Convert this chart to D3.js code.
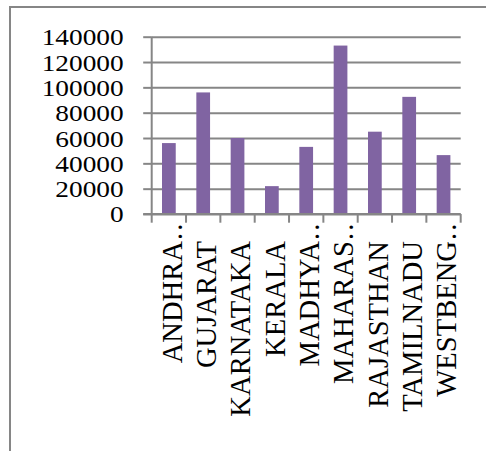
<!DOCTYPE html>
<html>
<head>
<meta charset="utf-8">
<script src="https://cdn.jsdelivr.net/npm/d3@7"></script>
<style>
  html, body { margin: 0; padding: 0; background: #fff; }
  svg { display: block; }
</style>
</head>
<body>
<svg id="chart" width="486" height="451" font-family="Liberation Serif"></svg>
<script>
// ---- data ----
const categories = ["ANDHRA PRADESH", "GUJARAT", "KARNATAKA", "KERALA", "MADHYA PRADESH",
                    "MAHARASHTRA", "RAJASTHAN", "TAMILNADU", "WESTBENGAL"];
const shownLabels = ["ANDHRA", "GUJARAT", "KARNATAKA", "KERALA", "MADHYA",
                     "MAHARAS", "RAJASTHAN", "TAMILNADU", "WESTBENG"];
const truncated = [true, false, false, false, true, true, false, false, true];
const values = [56000, 96000, 60000, 22000, 53000, 133000, 65000, 92500, 46500];
const yTicks = [0, 20000, 40000, 60000, 80000, 100000, 120000, 140000];

// ---- layout ----
const svg = d3.select("#chart");
const plot = { left: 151.7, right: 460.7, top: 36.7, bottom: 214 };
const gridColor = "#868686";
const barColor = "#8064A2";
const FONT = "Liberation Serif";

// outer chart border (only left/top visible)
svg.append("rect")
  .attr("x", 10).attr("y", 7)
  .attr("width", 600).attr("height", 600)
  .attr("fill", "none").attr("stroke", gridColor).attr("stroke-width", 2);

const x = d3.scaleBand().domain(categories).range([plot.left, plot.right]).padding(0);
const y = d3.scaleLinear().domain([0, 140000]).range([plot.bottom, plot.top]);

// gridlines + y ticks
const yAxis = d3.axisLeft(y).tickValues(yTicks).tickSize(-(plot.right - plot.left)).tickFormat("");
const gy = svg.append("g").attr("transform", `translate(${plot.left},0)`).call(yAxis);
gy.attr("font-family", FONT).attr("font-size", null);
gy.select(".domain").remove();
gy.selectAll(".tick line").attr("stroke", gridColor).attr("stroke-width", 2);
gy.selectAll(".tick text").remove();
// outward tick marks
gy.selectAll(".tick").append("line")
  .attr("x1", -8.5).attr("x2", 0).attr("stroke", gridColor).attr("stroke-width", 2);
gy.selectAll(".tick").append("text")
  .attr("transform", "translate(-28,0) scale(1.2,1)")
  .attr("dy", "0.35em")
  .attr("text-anchor", "end")
  .attr("fill", "#000")
  .attr("font-family", FONT)
  .attr("font-size", 22.8)
  .text(d => d);

// y axis line
svg.append("line")
  .attr("x1", plot.left).attr("x2", plot.left)
  .attr("y1", plot.top).attr("y2", plot.bottom)
  .attr("stroke", gridColor).attr("stroke-width", 2);

// bars
const barW = x.bandwidth() * 0.4;
svg.append("g").selectAll("rect").data(values).join("rect")
  .attr("x", (d, i) => x(categories[i]) + (x.bandwidth() - barW) / 2)
  .attr("y", d => y(d))
  .attr("width", barW)
  .attr("height", d => y(0) - y(d))
  .attr("fill", barColor);

// x axis: line + boundary ticks
svg.append("line")
  .attr("x1", plot.left - 8.5).attr("x2", plot.right)
  .attr("y1", plot.bottom).attr("y2", plot.bottom)
  .attr("stroke", gridColor).attr("stroke-width", 2);
const bounds = categories.map(c => x(c)).concat([plot.right]);
svg.append("g").selectAll("line").data(bounds).join("line")
  .attr("x1", d => d).attr("x2", d => d)
  .attr("y1", plot.bottom).attr("y2", plot.bottom + 8.7)
  .attr("stroke", gridColor).attr("stroke-width", 2);

// category labels (rotated)
const labelTop = 241;
const lbl = svg.append("g").selectAll("text").data(shownLabels).join("text")
  .attr("transform", (d, i) => `translate(${x(categories[i]) + x.bandwidth() / 2 + 0.5},${labelTop}) rotate(-90)`)
  .attr("dy", "0.43em")
  .attr("text-anchor", "end")
  .attr("fill", "#000")
  .attr("font-family", FONT)
  .attr("font-size", 28.6);
lbl.append("tspan").text(d => d);
lbl.filter((d, i) => truncated[i]).append("tspan")
  .attr("x", 0).attr("dx", 1)
  .attr("text-anchor", "start")
  .attr("letter-spacing", 2)
  .text("..");
</script>
</body>
</html>
